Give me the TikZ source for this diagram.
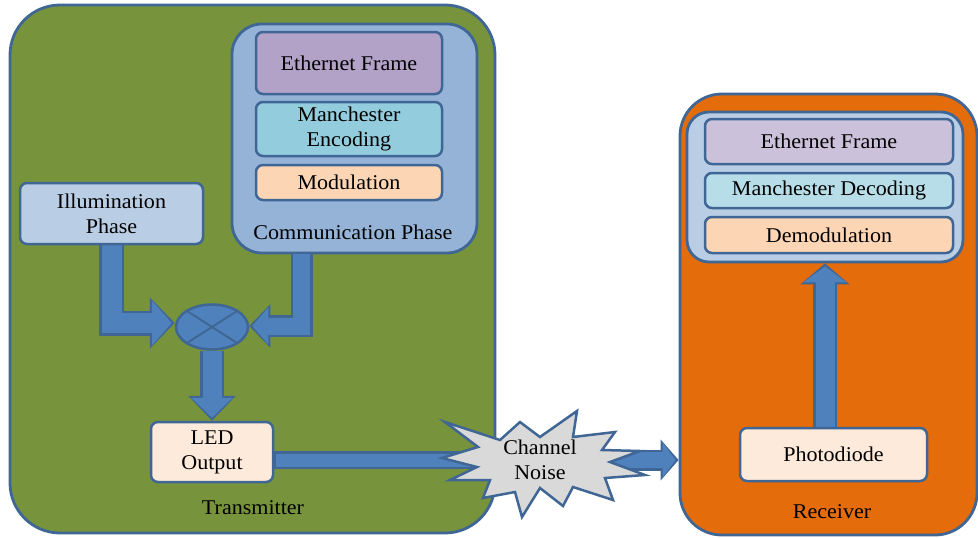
\documentclass[tikz,border=0pt]{standalone}
\usepackage{fontspec}
\setmainfont{Liberation Serif}[FakeStretch=1.05]
\usetikzlibrary{shapes.geometric,arrows.meta,calc}
\definecolor{edge}{HTML}{3F6695}
\definecolor{flow}{HTML}{4F81BD}
\definecolor{olive}{HTML}{77933C}
\definecolor{amber}{HTML}{E46C0A}
\definecolor{steel}{HTML}{95B3D7}
\definecolor{pale}{HTML}{B9CDE5}
\definecolor{lilac}{HTML}{B3A2C7}
\definecolor{lilacl}{HTML}{CCC1DA}
\definecolor{aqua}{HTML}{93CDDD}
\definecolor{aqual}{HTML}{B7DEE8}
\definecolor{peach}{HTML}{FCD5B5}
\definecolor{cream}{HTML}{FDEADA}
\definecolor{mist}{HTML}{D9D9D9}
\pgfdeclarelayer{back}\pgfdeclarelayer{mid}\pgfsetlayers{back,mid,main}

\begin{document}
\begin{tikzpicture}[x=1pt,y=-1pt,
  txt/.style={font=\fontsize{21}{25}\selectfont},
  panel/.style={draw=edge,line width=2.8pt,rounded corners=#1,inner sep=0pt},
  block/.style={draw=edge,line width=2.5pt,rounded corners=7pt,inner sep=0pt,align=center,txt},
  rim/.style={draw=edge,line width=#1},
  core/.style={draw=flow,line width=#1},
]
\useasboundingbox (0,0) rectangle (978,538);

% large containers
\begin{pgfonlayer}{back}
\node[panel=50pt, fill=olive, minimum width=485pt, minimum height=528pt] (tx) at (252.5,269) {};
\node[panel=42pt, fill=amber, minimum width=297pt, minimum height=441pt] (rx) at (828.5,314.5) {};
\node[panel=30pt, fill=steel, minimum width=245pt, minimum height=229pt] (comm) at (354.5,138.5) {};
\node[panel=22pt, fill=pale, minimum width=276pt, minimum height=150pt] (rxin) at (825,187) {};
\end{pgfonlayer}

% transmitter blocks
\node[block, fill=lilac, minimum width=186pt, minimum height=62pt] (ethtx) at (349,63) {Ethernet Frame};
\node[block, fill=aqua, minimum width=186pt, minimum height=54pt] (mantx) at (349,129) {Manchester\\Encoding};
\node[block, fill=peach, minimum width=186pt, minimum height=35pt] (mod) at (349,182.5) {Modulation};
\node[txt] (commlbl) at (353,232) {Communication Phase};
\node[block, fill=pale, minimum width=183pt, minimum height=61pt] (illum) at (111.5,213.5) {Illumination\\Phase};
\node[ellipse, draw=edge, fill=flow, line width=2.5pt, minimum width=72pt, minimum height=45pt, inner sep=0pt] (mix) at (212,327) {};
\draw[edge, line width=2pt] (mix.north west) -- (mix.south east) (mix.north east) -- (mix.south west);
\node[block, fill=cream, minimum width=122pt, minimum height=60pt] (led) at (212,452) {LED\\Output};
\node[txt] (txlbl) at (253,508) {Transmitter};

% receiver blocks
\node[block, fill=lilacl, minimum width=248pt, minimum height=45pt] (ethrx) at (829,141.5) {Ethernet Frame};
\node[block, fill=aqual, minimum width=248pt, minimum height=35pt] (manrx) at (829,190.5) {Manchester Decoding};
\node[block, fill=peach, minimum width=248pt, minimum height=36pt] (demod) at (829,235) {Demodulation};
\node[block, fill=cream, minimum width=187pt, minimum height=53pt] (photo) at (833.5,454.5) {Photodiode};
\node[txt] (rxlbl) at (832,512) {Receiver};

\coordinate (noisec) at (540,460);

% block arrows: outline pass, then fill pass
\begin{pgfonlayer}{mid}
\draw[rim=25pt,-{Triangle[length=25pt,width=50pt]}] (illum.south) |- ([yshift=4pt]mix.west);
\draw[core=20pt,shorten >=3pt,-{Triangle[length=20pt,width=44pt]}] (illum.south) |- ([yshift=4pt]mix.west);
\draw[rim=22pt,-{Triangle[length=21pt,width=42pt]}] ([xshift=-53pt]comm.south) |- ([yshift=1pt]mix.east);
\draw[core=17pt,shorten >=3pt,-{Triangle[length=16pt,width=36pt]}] ([xshift=-53pt]comm.south) |- ([yshift=1pt]mix.east);
\draw[rim=24pt,-{Triangle[length=25pt,width=46pt]}] (mix.south) -- (led.north);
\draw[core=19pt,shorten >=3pt,-{Triangle[length=20pt,width=40pt]}] (mix.south) -- (led.north);
\draw[rim=24pt,-{Triangle[length=21pt,width=48pt]}] (photo.north -| rxin.south) -- (rxin.south);
\draw[core=19pt,shorten >=3pt,-{Triangle[length=16pt,width=42pt]}] (photo.north -| rxin.south) -- (rxin.south);
\draw[rim=18pt] (led.east |- noisec) -- (noisec);
\draw[core=13pt] ([xshift=2pt]led.east |- noisec) -- (noisec);
\draw[rim=21pt,-{Triangle[length=18pt,width=40pt]}] (noisec) -- (rx.west |- noisec);
\draw[core=16pt,shorten >=3pt,-{Triangle[length=13pt,width=34pt]}] (noisec) -- (rx.west |- noisec);
\end{pgfonlayer}

% channel noise burst
\draw[draw=edge, fill=mist, line width=2.5pt]
  (445,422) -- (500,440) -- (520,422) -- (540,437) -- (577,411) -- (573,437)
  -- (615,432) -- (602,450) -- (640,451) -- (610,462) -- (645,475) -- (605,478)
  -- (613,500) -- (573,487) -- (563,506) -- (540,488) -- (522,517) -- (515,492)
  -- (483,498) -- (490,480) -- (450,480) -- (477,467) -- (442,458) -- (478,447) -- cycle;
\node[txt, align=center, inner sep=0pt] (noise) at (noisec) {Channel\\Noise};
\end{tikzpicture}
\end{document}
